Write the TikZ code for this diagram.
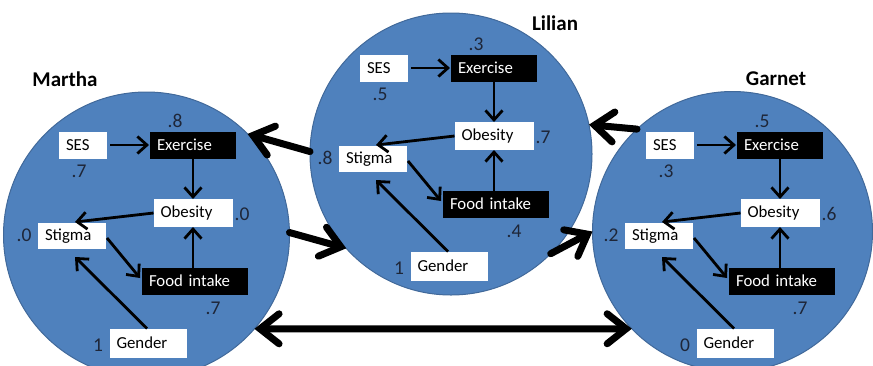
\documentclass[tikz,border=0pt]{standalone}
\usepackage{fontspec}
\setmainfont{Carlito}
\usetikzlibrary{arrows.meta}

\definecolor{disc}{HTML}{4F81BD}
\definecolor{discline}{HTML}{41699A}
\definecolor{numink}{HTML}{1E2638}

\tikzset{
  person/.style={circle, fill=disc, draw=discline, line width=1pt,
                 inner sep=0pt, outer sep=0pt, minimum size=#1},
  boxbase/.style={inner xsep=7pt, inner ysep=0pt, minimum height=27pt,
                  text width=#1, align=left, outer sep=0pt,
                  font=\fontsize{16.8}{18}\selectfont},
  lightbox/.style={boxbase=#1, fill=white, text=black},
  darkbox/.style={boxbase=#1, fill=black, text=white},
  num/.style={font=\fontsize{19.5}{20}\selectfont, text=numink, inner sep=0pt},
  who/.style={font=\bfseries\fontsize{21}{24}\selectfont, inner sep=0pt},
  link/.style={line width=2.8pt, -{Straight Barb[length=9.5pt,width=17pt]}},
  bond/.style={line width=7pt, line cap=round,
               -{Straight Barb[length=19pt,width=30pt,line cap=round]}},
  bondboth/.style={line width=7pt, line cap=round,
               {Straight Barb[length=19pt,width=30pt,line cap=round]}-{Straight Barb[length=19pt,width=30pt,line cap=round]}},
}

% One person's path model; the six arguments are the values shown
% at Exercise, SES, Obesity, Stigma, Food intake and Gender.
\newcommand\personmodel[6]{%
  \node[lightbox=34pt] (ses) at (83,145) {SES};
  \node[darkbox=72pt] (ex) at (193,145) {Exercise};
  \node[lightbox=65pt, minimum height=28pt] (ob) at (193,213) {Obesity};
  \node[lightbox=54pt, minimum height=26pt] (st) at (72,236) {Stigma};
  \node[darkbox=92pt] (fo) at (195,281) {Food intake};
  \node[lightbox=63pt, minimum height=29pt] (ge) at (148,343) {Gender};
  \node[num] (vex) at (175,121) {#1};
  \node[num] (vses) at (79,171) {#2};
  \node[num] (vob) at (242,214) {#3};
  \node[num] (vst) at (24,235) {#4};
  \node[num] (vfo) at (213,308) {#5};
  \node[num] (vge) at (98,345) {#6};
  \draw[link, shorten <=3pt, shorten >=1pt] (ses.east) -- (ex.west);
  \draw[link] (ex.south) -- (ob.north);
  \draw[link] (ob.west) -- ([xshift=3pt,yshift=1pt]st.north);
  \draw[link] ([xshift=1pt,yshift=-2pt]st.east) -- ([xshift=-2pt,yshift=3pt]fo.west);
  \draw[link] (fo.north -| ob.south) -- (ob.south);
  \draw[link] ([xshift=-1pt]ge.north) -- ([xshift=3pt,yshift=-8pt]st.south);
}

\begin{document}
\begin{tikzpicture}[x=1pt, y=-1pt]
  \useasboundingbox (0,0) rectangle (873,365);

  % the three people
  \node[person=286pt] (M) at (146.5,235) {};
  \node[person=282pt] (L) at (451,154) {};
  \node[person=280pt] (G) at (732.5,231.5) {};

  \node[who] (nM) at (65,79) {Martha};
  \node[who] (nL) at (555,23) {Lilian};
  \node[who] (nG) at (776,79) {Garnet};

  \begin{scope}[name prefix=m-]
    \personmodel{.8}{.7}{.0}{.0}{.7}{1}
  \end{scope}
  \begin{scope}[shift={(301,-77)}, name prefix=l-]
    \personmodel{.3}{.5}{.7}{.8}{.4}{1}
  \end{scope}
  \begin{scope}[shift={(587,0)}, name prefix=g-]
    \personmodel{.5}{.3}{.6}{.2}{.7}{0}
  \end{scope}

  % influences between the people
  \draw[bond] (L.179) -- (M.45);
  \draw[bond] (M.1) -- (L.222);
  \draw[bond] (L.315) -- (G.180);
  \draw[bond] (G.133) -- (L.12);
  \draw[bondboth] (M.319) -- (G.224);
\end{tikzpicture}
\end{document}
